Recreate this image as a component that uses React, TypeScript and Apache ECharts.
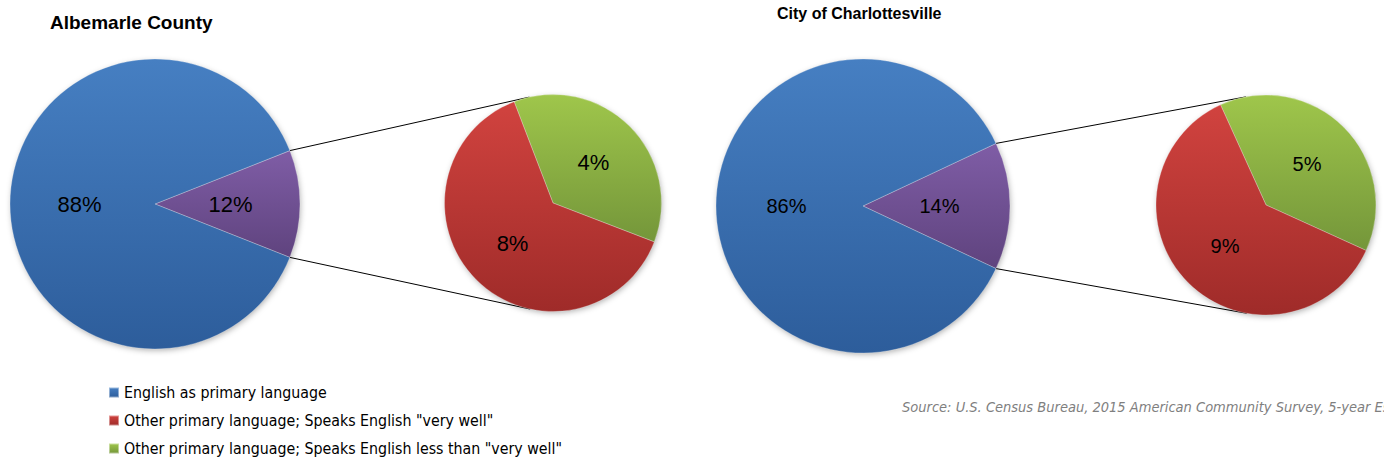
import React, { useEffect, useRef } from "react";
import * as echarts from "echarts";

const titles = ["Albemarle County", "City of Charlottesville"];
const legendNames = [
  "English as primary language",
  'Other primary language; Speaks English "very well"',
  'Other primary language; Speaks English less than "very well"',
];
const otherName = "Other primary language";
// main pie: [English, Other]
const albemarleMain = [88, 12];
const charlottesvilleMain = [86, 14];
// split of "Other": [very well, less than very well]
const albemarleSplit = [7.6, 4.4];
const charlottesvilleSplit = [8.6, 5.4];
const sourceText = "Source: U.S. Census Bureau, 2015 American Community Survey, 5-year Estimates";

const grad = (a: string, b: string) =>
  new echarts.graphic.LinearGradient(0, 0, 0, 1, [
    { offset: 0, color: a },
    { offset: 1, color: b },
  ]);

const BLUE = () => grad("#467fc2", "#2d5d9b");
const PURPLE = () => grad("#7f5da6", "#5f437e");
const RED = () => grad("#d1433f", "#9f2b29");
const GREEN = () => grad("#9fc64b", "#74963a");

type Layout = { c1: number[]; r1: number; c2: number[]; r2: number; fs: number };
const layouts: Layout[] = [
  { c1: [155, 204], r1: 145, c2: [553, 203], r2: 108.5, fs: 22 },
  { c1: [863, 206], r1: 147, c2: [1266, 205], r2: 110, fs: 20 },
];

function tangent(P: number[], C: number[], r: number, sign: number) {
  const dx = P[0] - C[0];
  const dy = P[1] - C[1];
  const d = Math.hypot(dx, dy);
  const base = Math.atan2(dy, dx);
  const a = Math.acos(r / d);
  const ang = base + sign * a;
  return [C[0] + r * Math.cos(ang), C[1] + r * Math.sin(ang)];
}

export default function App() {
  const ref = useRef<HTMLDivElement>(null);
  useEffect(() => {
    if (!ref.current) return;
    const chart = echarts.init(ref.current, null, { renderer: "svg" });
    const mains = [albemarleMain, charlottesvilleMain];
    const splits = [albemarleSplit, charlottesvilleSplit];
    const series: any[] = [];
    const graphics: any[] = [];
    const labelFmt = (p: any) => Math.round(p.value) + "%";

    mains.forEach((main, i) => {
      const L = layouts[i];
      const split = splits[i];
      const otherFrac = main[1] / (main[0] + main[1]);
      const half = otherFrac * 180;
      const greenFrac = split[1] / (split[0] + split[1]);
      const label = {
        show: true,
        position: "inside",
        formatter: labelFmt,
        color: "#000",
        fontSize: L.fs,
        fontFamily: "Liberation Sans, Arial, sans-serif",
      };
      series.push({
        type: "pie",
        center: L.c1,
        radius: L.r1,
        startAngle: half,
        clockwise: true,
        silent: true,
        avoidLabelOverlap: false,
        label,
        labelLine: { show: false },
        emphasis: { disabled: true },
        itemStyle: { borderWidth: 0.6, borderColor: "rgba(255,255,255,0.45)" },
        data: [
          { name: otherName, value: main[1], itemStyle: { color: PURPLE() } },
          { name: legendNames[0], value: main[0], itemStyle: { color: BLUE() } },
        ],
      });
      series.push({
        type: "pie",
        center: L.c2,
        radius: L.r2,
        startAngle: 45 + greenFrac * 180,
        clockwise: true,
        silent: true,
        avoidLabelOverlap: false,
        label,
        labelLine: { show: false },
        emphasis: { disabled: true },
        itemStyle: { borderWidth: 0.6, borderColor: "rgba(255,255,255,0.45)" },
        data: [
          { name: legendNames[2], value: split[1], itemStyle: { color: GREEN() } },
          { name: legendNames[1], value: split[0], itemStyle: { color: RED() } },
        ],
      });
      // shadows
      [
        [L.c1, L.r1],
        [L.c2, L.r2],
      ].forEach(([c, r]: any) => {
        graphics.push({
          type: "circle",
          z: 0,
          silent: true,
          shape: { cx: c[0], cy: c[1], r: r - 1 },
          style: {
            fill: "#bbb",
            shadowBlur: 6,
            shadowColor: "rgba(0,0,0,0.35)",
            shadowOffsetX: 1,
            shadowOffsetY: 2,
          },
        });
      });
      // connector lines
      const rad = (half * Math.PI) / 180;
      const pTop = [L.c1[0] + L.r1 * Math.cos(rad), L.c1[1] - L.r1 * Math.sin(rad)];
      const pBot = [L.c1[0] + L.r1 * Math.cos(rad), L.c1[1] + L.r1 * Math.sin(rad)];
      const tTop = tangent(pTop, L.c2, L.r2, 1);
      const tBot = tangent(pBot, L.c2, L.r2, -1);
      [
        [pTop, tTop],
        [pBot, tBot],
      ].forEach(([a, b]) => {
        graphics.push({
          type: "line",
          z: 1,
          silent: true,
          shape: { x1: a[0], y1: a[1], x2: b[0], y2: b[1] },
          style: { stroke: "#000", lineWidth: 1 },
        });
      });
    });

    graphics.push({
      type: "text",
      left: 50,
      top: 13,
      style: {
        text: titles[0],
        fontWeight: "bold",
        fontSize: 19,
        fontFamily: "'Liberation Sans', Arial, sans-serif",
        fill: "#000",
      },
    });
    graphics.push({
      type: "text",
      left: 777,
      top: 5,
      style: {
        text: titles[1],
        fontWeight: "bold",
        fontSize: 16,
        fontFamily: "'Liberation Sans', Arial, sans-serif",
        fill: "#000",
      },
    });
    graphics.push({
      type: "text",
      x: 902,
      y: 407,
      style: {
        text: sourceText,
        fontStyle: "italic",
        fontSize: 14.5,
        fontFamily: "'DejaVu Sans Condensed', 'DejaVu Sans', sans-serif",
        fill: "#7f7f7f",
        textVerticalAlign: "middle",
      },
    });

    chart.setOption({
      animation: false,
      backgroundColor: "#fff",
      legend: {
        show: true,
        orient: "vertical",
        left: 108,
        top: 384,
        padding: 0,
        icon: "rect",
        itemWidth: 10,
        itemHeight: 10,
        itemGap: 11,
        selectedMode: false,
        data: legendNames,
        textStyle: {
          fontSize: 15.8,
          lineHeight: 17,
          color: "#000",
          fontFamily: "'DejaVu Sans Condensed', 'DejaVu Sans', sans-serif",
        },
      },
      graphic: graphics,
      series,
    });
    return () => chart.dispose();
  }, []);
  return (
    <div
      ref={ref}
      style={{ position: "absolute", left: 0, top: 0, width: 1384, height: 462 }}
    />
  );
}
